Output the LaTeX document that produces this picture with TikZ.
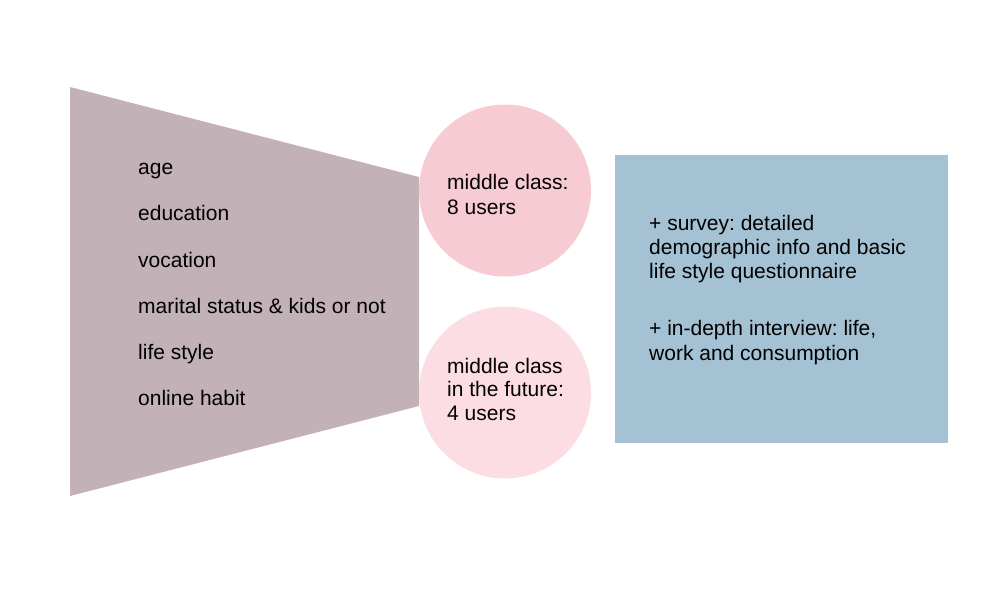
\documentclass[tikz,border=0pt]{standalone}
\usepackage{fontspec}
\setmainfont{Liberation Sans}
\usetikzlibrary{positioning}
\frenchspacing

\definecolor{funnelgray}{HTML}{C2B1B6}
\definecolor{classpink}{HTML}{F7CBD3}
\definecolor{futurepink}{HTML}{FDDDE4}
\definecolor{methodblue}{HTML}{A4C2D3}

\begin{document}
\begin{tikzpicture}[x=1pt, y=-1pt,
    txt/.style={anchor=base west, inner sep=0pt, align=left,
      font=\fontsize{21}{24}\selectfont},
    group/.style={circle, inner sep=0pt, minimum size=172pt}]
    \useasboundingbox (0,0) rectangle (1000,600);

    % Corners of the funnel
    \coordinate (F1) at (70,87);
    \coordinate (F2) at (419,177);
    \coordinate (F3) at (419,406);
    \coordinate (F4) at (70,496);
    \fill[funnelgray] (F1) -- (F2) -- (F3) -- (F4) -- cycle;

    % Screening criteria
    \foreach \name/\ypos/\crit in {age/174/age, edu/220/education,
        voc/267/vocation, mar/313/marital status \& kids or not,
        life/359/life style, web/405/online habit}
      \node[txt] (\name) at (138,\ypos) {\crit};

    % The two user groups (base = last line)
    \node[group, fill=classpink] (mid) at (505,190.5) {};
    \node[group, fill=futurepink] (fut) at (505,392.5) {};
    \node[txt, font=\fontsize{21}{25}\selectfont] (midtxt) at (447,214)
      {middle class:\\8 users};
    \node[txt, font=\fontsize{21}{23.4}\selectfont] (futtxt) at (447,420)
      {middle class\\in the future:\\4 users};

    % Research methods
    \fill[methodblue] (615,155) rectangle (948,443);
    \node[txt, font=\fontsize{21}{23.7}\selectfont] (survey) at (649,278)
      {+ survey: detailed\\demographic info and basic\\life style questionnaire};
    \node[txt, font=\fontsize{21}{25}\selectfont] (interview) at (649,360)
      {+ in-depth interview: life,\\work and consumption};
  \end{tikzpicture}
\end{document}
